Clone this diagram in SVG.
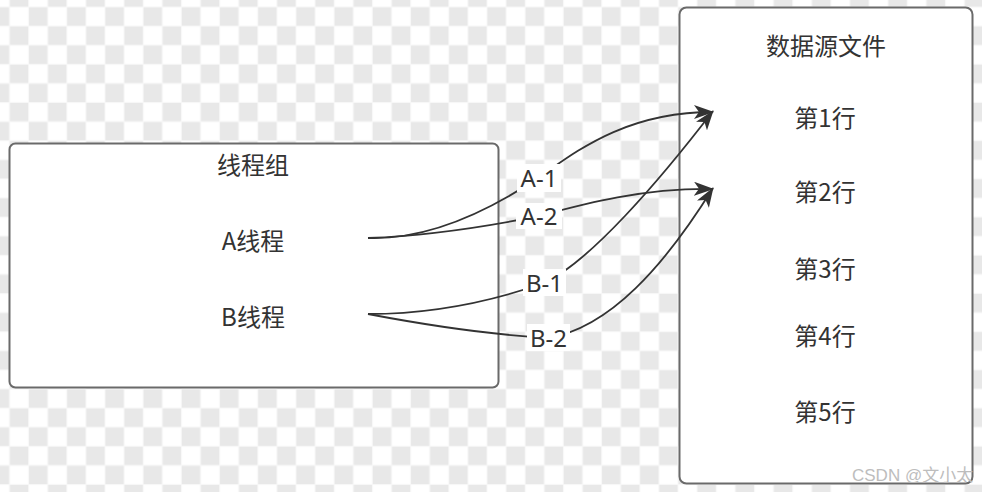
<svg xmlns="http://www.w3.org/2000/svg" width="982" height="492" viewBox="0 0 982 492">
<style>
.box{fill:#ffffff;stroke:#6a6a6a;stroke-width:2}
.t{font-family:"Noto Sans CJK SC","Noto Sans",sans-serif;font-size:24px;fill:#333333;text-anchor:middle}
.lbl{font-family:"Noto Sans","Open Sans",sans-serif;font-size:24px;fill:#333333;text-anchor:middle}
.lbg{fill:#ffffff}
.edge{fill:none;stroke:#333333;stroke-width:1.8;marker-end:url(#arr)}
.wm{font-family:"Liberation Sans","Noto Sans CJK SC",sans-serif;font-size:17px;fill:#bdbdbd}
</style>
<defs>
<pattern id="chk" patternUnits="userSpaceOnUse" x="9.5" y="7" width="38.2" height="38.2">
<rect x="0" y="0" width="38.2" height="38.2" fill="#f7f7f7"/>
<rect x="0.5" y="0.5" width="18.1" height="18.1" fill="#ffffff"/>
<rect x="19.6" y="19.6" width="18.1" height="18.1" fill="#ffffff"/>
<rect x="19.6" y="0.5" width="18.1" height="18.1" fill="#e8e8e8"/>
<rect x="0.5" y="19.6" width="18.1" height="18.1" fill="#e8e8e8"/>
</pattern>
<marker id="arr" viewBox="0 0 20 14" refX="19" refY="7" markerWidth="20" markerHeight="14" markerUnits="userSpaceOnUse" orient="auto">
<path d="M0,0 L20,7 L0,14 L5,7 Z" fill="#333333"/>
</marker>
</defs>
<rect x="0" y="0" width="982" height="492" fill="url(#chk)"/>

<g id="thread-group">
<rect class="box" x="9.5" y="143.5" width="489" height="244" rx="6"/>
<text class="t" x="253" y="174">线程组</text>
</g>
<g id="thread-a">
<text class="t" x="253" y="250">A线程</text>
</g>
<g id="thread-b">
<text class="t" x="253" y="326">B线程</text>
</g>

<g id="data-file">
<rect class="box" x="679.5" y="7.5" width="293" height="476" rx="7"/>
<text class="t" x="826" y="55">数据源文件</text>
</g>
<g id="row1"><text class="t" x="825" y="127">第1行</text></g>
<g id="row2"><text class="t" x="825" y="201">第2行</text></g>
<g id="row3"><text class="t" x="825" y="278">第3行</text></g>
<g id="row4"><text class="t" x="825" y="345">第4行</text></g>
<g id="row5"><text class="t" x="825" y="421">第5行</text></g>

<g id="connectors">
<path class="edge" d="M368,238 C430,240 490,210 538,178 C572,155 622,112 713,112"/>
<path class="edge" d="M368,238 C420,236 480,228 539,216 C580,205 640,188 713,189"/>
<path class="edge" d="M368,314 C430,314 490,302 544,283 C590,262 660,180 713,111"/>
<path class="edge" d="M368,314 C410,322 480,334 548,338 C610,328 665,265 713,188"/>
<rect class="lbg" x="517" y="164" width="44" height="28"/>
<text class="lbl" x="539" y="187">A-1</text>
<rect class="lbg" x="516" y="203" width="46" height="26"/>
<text class="lbl" x="539" y="225">A-2</text>
<rect class="lbg" x="523" y="269" width="43" height="27"/>
<text class="lbl" x="544.5" y="292">B-1</text>
<rect class="lbg" x="527" y="324" width="43" height="27"/>
<text class="lbl" x="548.5" y="347">B-2</text>
</g>

<text class="wm" x="852" y="481">CSDN @文小太</text>
</svg>
